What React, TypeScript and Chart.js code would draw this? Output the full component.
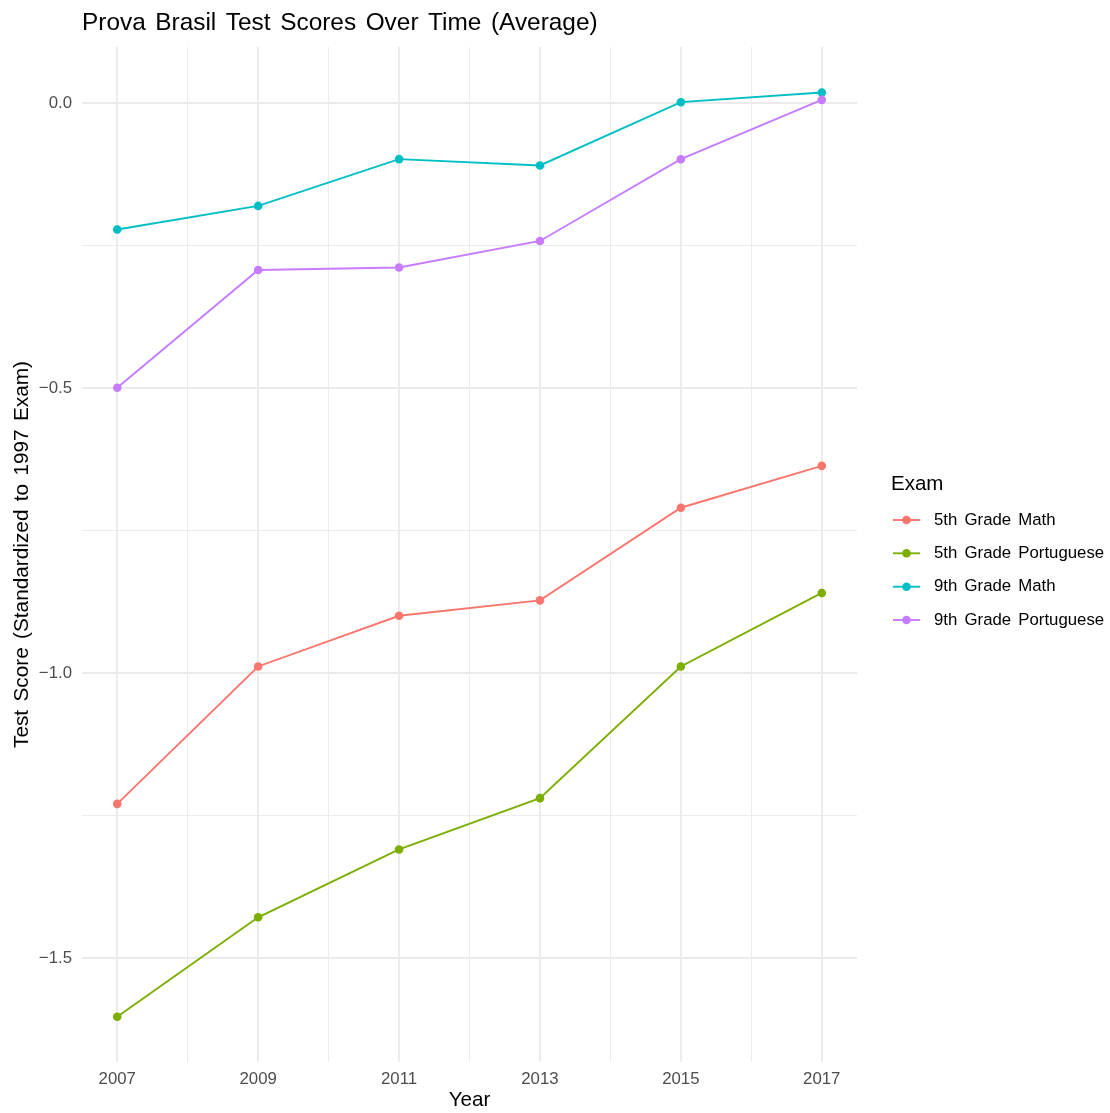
import React, { useEffect, useRef } from "react";
import { Chart, registerables } from "chart.js";

Chart.register(...registerables);

const years = [2007, 2009, 2011, 2013, 2015, 2017];
const seriesNames = ["5th Grade Math", "5th Grade Portuguese", "9th Grade Math", "9th Grade Portuguese"];
const seriesColors = ["#F8766D", "#7CAE00", "#00BFC4", "#C77CFF"];
const math5 = [-1.229, -0.988, -0.899, -0.872, -0.7095, -0.636];
const port5 = [-1.6025, -1.428, -1.309, -1.219, -0.988, -0.859];
const math9 = [-0.2214, -0.18, -0.0979, -0.109, 0.002, 0.019];
const port9 = [-0.499, -0.2924, -0.288, -0.2415, -0.098, 0.006];
const xTickValues = [2007, 2008, 2009, 2010, 2011, 2012, 2013, 2014, 2015, 2016, 2017];
const yTickValues = [-1.5, -1.25, -1.0, -0.75, -0.5, -0.25, 0.0];

const FONT = "'Liberation Sans', Arial, Helvetica, sans-serif";
const TITLE = "Prova Brasil Test Scores Over Time (Average)";
const LEGEND_TITLE = "Exam";

const isMajorX = (v: number) => Math.abs((v - 2007) % 2) < 1e-9;
const isMajorY = (v: number) => Math.abs(v * 2 - Math.round(v * 2)) < 1e-9;
const fmtY = (v: number) => {
  const s = Math.abs(v).toFixed(1);
  return v < -1e-9 ? "\u2212" + s : s;
};

const overlayPlugin = {
  id: "overlay",
  beforeDraw(chart: any) {
    const ctx = chart.ctx as any;
    ctx.wordSpacing = "2.5px";
  },
  afterDraw(chart: any) {
    const ctx = chart.ctx as any;
    ctx.save();
    ctx.wordSpacing = "2.8px";
    // title
    ctx.fillStyle = "#000000";
    ctx.font = `24.4px ${FONT}`;
    ctx.textAlign = "left";
    ctx.textBaseline = "alphabetic";
    ctx.fillText(TITLE, 82, 30);
    // legend
    ctx.font = `20.5px ${FONT}`;
    ctx.fillText(LEGEND_TITLE, 891, 490);
    const rowY = [520, 553.3, 586.7, 620];
    ctx.font = `16.8px ${FONT}`;
    ctx.wordSpacing = "2.5px";
    chart.data.datasets.forEach((ds: any, i: number) => {
      const y = rowY[i];
      ctx.strokeStyle = ds.borderColor;
      ctx.lineWidth = 1.9;
      ctx.beginPath();
      ctx.moveTo(893, y);
      ctx.lineTo(920, y);
      ctx.stroke();
      ctx.fillStyle = ds.borderColor;
      ctx.beginPath();
      ctx.arc(906.5, y, 4.3, 0, Math.PI * 2);
      ctx.fill();
      ctx.fillStyle = "#000000";
      ctx.textBaseline = "middle";
      ctx.fillText(ds.label, 934, y);
    });
    ctx.restore();
    ctx.wordSpacing = "0px";
  },
};

export default function App() {
  const canvasRef = useRef<HTMLCanvasElement | null>(null);

  useEffect(() => {
    document.body.style.margin = "0";
    const canvas = canvasRef.current;
    if (!canvas) return;
    const seriesData = [math5, port5, math9, port9];
    const datasets = seriesNames.map((name, i) => ({
      label: name,
      data: years.map((yr, j) => ({ x: yr, y: seriesData[i][j] })),
      borderColor: seriesColors[i],
      backgroundColor: seriesColors[i],
      pointBackgroundColor: seriesColors[i],
      pointBorderWidth: 0,
      pointRadius: 4.3,
      borderWidth: 1.9,
      tension: 0,
      fill: false,
      order: 4 - i,
    }));

    const chart = new Chart(canvas, {
      type: "line",
      data: { datasets },
      plugins: [overlayPlugin],
      options: {
        responsive: false,
        animation: false,
        devicePixelRatio: 1,
        layout: { padding: { left: 0, top: 47, right: 253, bottom: 0 } },
        plugins: {
          legend: { display: false },
          title: { display: false },
          tooltip: { enabled: false },
        },
        scales: {
          x: {
            type: "linear",
            min: 2006.5,
            max: 2017.5,
            afterBuildTicks: (scale: any) => {
              scale.ticks = xTickValues.map((v) => ({ value: v }));
            },
            afterFit: (scale: any) => {
              scale.height = 51;
            },
            ticks: {
              autoSkip: false,
              maxRotation: 0,
              padding: 7.2,
              color: "#4D4D4D",
              font: { size: 16.8, family: FONT },
              callback: (v: any) => (isMajorX(Number(v)) ? String(v) : ""),
            },
            grid: {
              drawTicks: false,
              color: "#EBEBEB",
              lineWidth: (c: any) => (c.tick && isMajorX(c.tick.value) ? 1.9 : 0.95),
            },
            border: { display: false },
            title: {
              display: true,
              text: "Year",
              color: "#000000",
              font: { size: 20.6, family: FONT },
              padding: { top: 0, bottom: 0 },
            },
          },
          y: {
            type: "linear",
            min: -1.6819,
            max: 0.0988,
            afterBuildTicks: (scale: any) => {
              scale.ticks = yTickValues.map((v) => ({ value: v }));
            },
            afterFit: (scale: any) => {
              scale.width = 82;
            },
            ticks: {
              autoSkip: false,
              padding: 10,
              color: "#4D4D4D",
              font: { size: 16.8, family: FONT },
              callback: (v: any) => (isMajorY(Number(v)) ? fmtY(Number(v)) : ""),
            },
            grid: {
              drawTicks: false,
              color: "#EBEBEB",
              lineWidth: (c: any) => (c.tick && isMajorY(c.tick.value) ? 1.9 : 0.95),
            },
            border: { display: false },
            title: {
              display: true,
              text: "Test Score (Standardized to 1997 Exam)",
              color: "#000000",
              font: { size: 20.8, family: FONT },
              padding: { top: 9.5, bottom: 0 },
            },
          },
        },
      },
    } as any);

    return () => chart.destroy();
  }, []);

  return (
    <div style={{ position: "relative", width: 1110, height: 1113, background: "#FFFFFF" }}>
      <canvas ref={canvasRef} width={1110} height={1113} style={{ display: "block", width: 1110, height: 1113 }} />
    </div>
  );
}
